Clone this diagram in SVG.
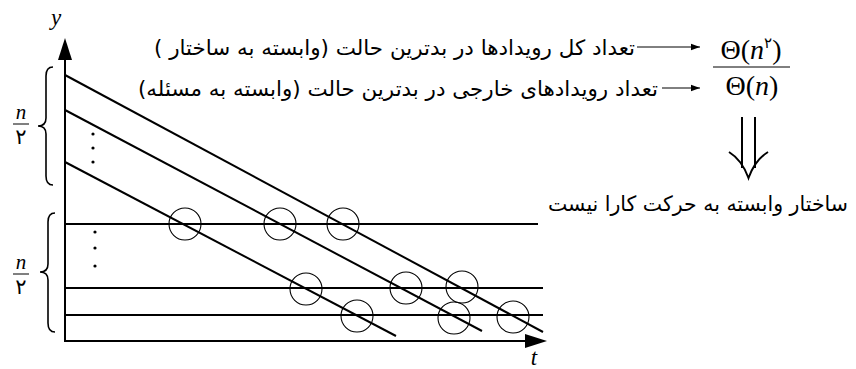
<svg xmlns="http://www.w3.org/2000/svg" width="856" height="369" viewBox="0 0 856 369">
<style>
.ax{stroke:#000;stroke-width:2;fill:none}
.ln{stroke:#000;stroke-width:2;fill:none}
.cr{stroke:#000;stroke-width:1.1;fill:none}
.br{stroke:#000;stroke-width:1.6;fill:none}
.fa{font-family:"DejaVu Sans",sans-serif;font-size:21px;fill:#000}
.mi{font-family:"Liberation Serif",serif;font-style:italic;fill:#000}
.mr{font-family:"Liberation Serif",serif;fill:#000}
.thin{stroke:#000;stroke-width:1;fill:none}
</style>
<defs>
<marker id="ah" markerWidth="10" markerHeight="8" refX="9" refY="4" orient="auto" markerUnits="userSpaceOnUse">
<path d="M0,0.8 L9,4 L0,7.2 Z" fill="#000"/>
</marker>
</defs>

<g id="axes">
<line class="ax" x1="65" y1="341" x2="65" y2="58"/>
<polygon points="58,60 72,60 65,38" fill="#000"/>
<line class="ax" x1="64" y1="341" x2="527" y2="341"/>
<polygon points="525,334 525,348 547,341" fill="#000"/>
<text class="mi" x="56" y="25" font-size="23" text-anchor="middle">y</text>
<text class="mi" x="534" y="365" font-size="23" text-anchor="middle">t</text>
</g>

<g id="horizontal-lines">
<line class="ln" x1="65" y1="224" x2="538" y2="224"/>
<line class="ln" x1="65" y1="288" x2="543" y2="288"/>
<line class="ln" x1="65" y1="315" x2="543" y2="315"/>
</g>

<g id="diagonal-lines">
<line class="ln" x1="65" y1="75" x2="543" y2="332"/>
<line class="ln" x1="65" y1="110" x2="482" y2="331"/>
<line class="ln" x1="65" y1="162" x2="396" y2="336"/>
</g>

<g id="intersections">
<circle class="cr" cx="185" cy="224" r="16"/>
<circle class="cr" cx="280" cy="224" r="16"/>
<circle class="cr" cx="343" cy="224" r="16"/>
<circle class="cr" cx="306" cy="289" r="16"/>
<circle class="cr" cx="406" cy="288" r="16"/>
<circle class="cr" cx="462" cy="287" r="16"/>
<circle class="cr" cx="357" cy="316" r="16"/>
<circle class="cr" cx="454" cy="318" r="16"/>
<circle class="cr" cx="513" cy="317" r="16"/>
</g>

<g id="dots">
<circle cx="93" cy="134" r="1.6" fill="#000"/>
<circle cx="93" cy="148" r="1.6" fill="#000"/>
<circle cx="93" cy="162" r="1.6" fill="#000"/>
<circle cx="95" cy="232" r="1.6" fill="#000"/>
<circle cx="95" cy="248" r="1.6" fill="#000"/>
<circle cx="95" cy="266" r="1.6" fill="#000"/>
</g>

<g id="brace-upper">
<path class="br" d="M53,67 Q46,67 46,76 L46,118 Q46,126 38,126 Q46,126 46,134 L46,176 Q46,185 53,185"/>
<text class="mi" x="21" y="119" font-size="21" text-anchor="middle">n</text>
<line class="thin" x1="13" y1="124" x2="29" y2="124"/>
<text class="fa" x="21" y="144" font-size="19" text-anchor="middle">۲</text>
</g>

<g id="brace-lower">
<path class="br" d="M55,213 Q48,213 48,222 L48,264 Q48,272 40,272 Q48,272 48,280 L48,323 Q48,332 55,332"/>
<text class="mi" x="21" y="269" font-size="21" text-anchor="middle">n</text>
<line class="thin" x1="13" y1="274" x2="29" y2="274"/>
<text class="fa" x="21" y="294" font-size="19" text-anchor="middle">۲</text>
</g>

<g id="label-total">
<text class="fa" x="635" y="55" direction="rtl" unicode-bidi="embed" text-anchor="start" textLength="481" lengthAdjust="spacingAndGlyphs">تعداد کل رویدادها در بدترین حالت (وابسته به ساختار )</text>
</g>
<g id="label-external">
<text class="fa" x="658" y="96" direction="rtl" unicode-bidi="embed" text-anchor="start" textLength="520" lengthAdjust="spacingAndGlyphs">تعداد رویدادهای خارجی در بدترین حالت (وابسته به مسئله)</text>
</g>

<g id="connectors">
<line class="thin" x1="637" y1="47" x2="700" y2="47" marker-end="url(#ah)"/>
<line class="thin" x1="662" y1="88" x2="700" y2="88" marker-end="url(#ah)"/>
</g>

<g id="fraction">
<text class="mr" x="751" y="59" font-size="28" text-anchor="middle">Θ(<tspan class="mi">n</tspan><tspan font-family="DejaVu Sans" font-size="15" dy="-11">۲</tspan><tspan dy="11">)</tspan></text>
<line class="thin" x1="713" y1="67" x2="790" y2="67"/>
<text class="mr" x="752" y="95" font-size="28" text-anchor="middle">Θ(<tspan class="mi">n</tspan>)</text>
</g>

<g id="implies">
<path class="ln" d="M742,117 V168 M755,117 V168"/>
<path class="ln" d="M729,152 Q742,160 748.5,178 Q755,160 768,152"/>
</g>

<g id="conclusion">
<text class="fa" x="848" y="211" direction="rtl" unicode-bidi="embed" text-anchor="start" textLength="300" lengthAdjust="spacingAndGlyphs">ساختار وابسته به حرکت کارا نیست</text>
</g>
</svg>
